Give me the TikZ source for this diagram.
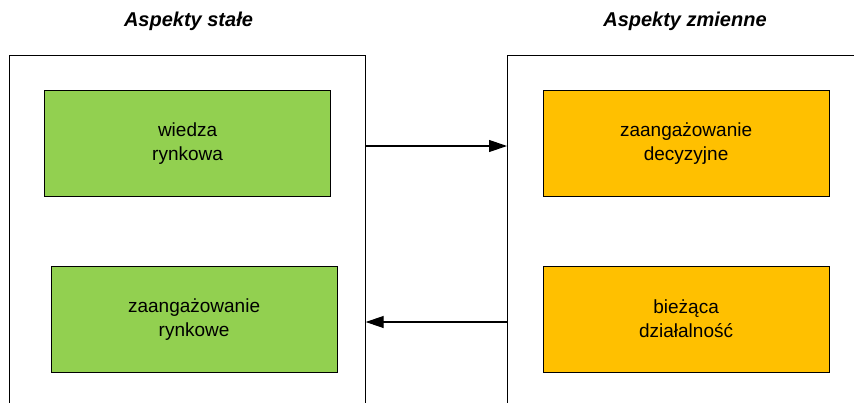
\documentclass[tikz,border=0pt]{standalone}
\usepackage{fontspec}
\setmainfont{Liberation Sans}
\usetikzlibrary{arrows.meta}
\definecolor{boxgreen}{HTML}{92D050}
\definecolor{boxorange}{HTML}{FFC000}
\begin{document}
\begin{tikzpicture}[x=1pt,y=-1pt,
  container/.style={draw=black, line width=1.2pt, fill=white, anchor=north west, inner sep=0pt, minimum height=400pt},
  itembox/.style={draw=black, line width=1.2pt, anchor=north west, inner sep=0pt, minimum width=286pt, minimum height=106pt,
    align=center, font=\fontsize{19}{24}\selectfont},
  greenbox/.style={itembox, fill=boxgreen},
  orangebox/.style={itembox, fill=boxorange},
  title/.style={font=\fontsize{20}{24}\selectfont\bfseries\itshape, anchor=base},
  link/.style={draw=black, line width=1.2pt, -{Triangle[length=18pt,width=12pt]}}
]
\clip (0,0) rectangle (854,402);
\node[container, minimum width=356pt] (left) at (8.5,54.5) {};
\node[container, minimum width=400pt] (right) at (507,54.5) {};
\node[title] (t1) at (188.5,26) {Aspekty stałe};
\node[title] (t2) at (685,26) {Aspekty zmienne};
\node[greenbox] (g1) at (44,89.5) {wiedza\\rynkowa};
\node[greenbox] (g2) at (50.5,265.5) {zaangażowanie\\rynkowe};
\node[orangebox] (o1) at (542.5,89.5) {zaangażowanie\\decyzyjne};
\node[orangebox] (o2) at (542.5,265.5) {bieżąca\\działalność};
\coordinate (ya) at (0,146);
\coordinate (yb) at (0,322);
\draw[link] (left.east |- ya) -- (right.west |- ya);
\draw[link] (right.west |- yb) -- (left.east |- yb);
\end{tikzpicture}
\end{document}
